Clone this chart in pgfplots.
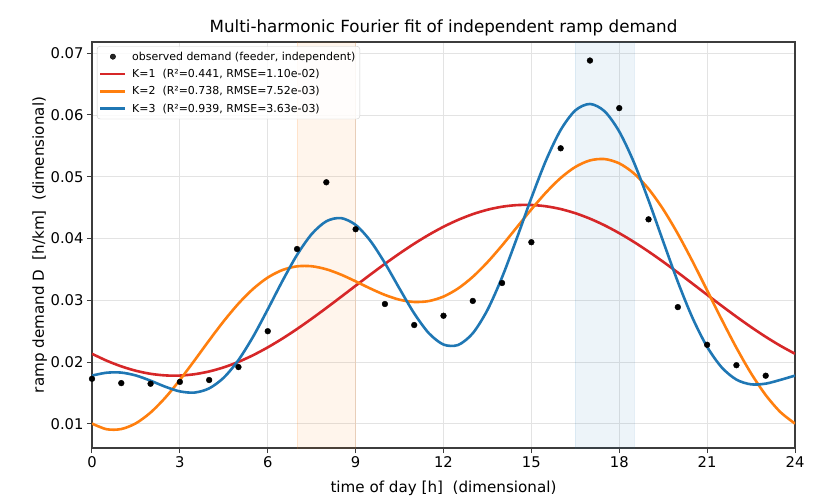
\documentclass[border=0pt]{standalone}
\usepackage{fontspec}
\setmainfont{DejaVu Sans}
\usepackage{pgfplots}
\pgfplotsset{compat=1.18}
\definecolor{tabred}{RGB}{214,39,40}
\definecolor{taborange}{RGB}{255,127,14}
\definecolor{tabblue}{RGB}{31,119,180}
\definecolor{framegray}{RGB}{60,60,60}
\begin{document}
\begin{tikzpicture}
\useasboundingbox (-92bp,-54bp) rectangle (738bp,448bp);
\begin{axis}[
  scale only axis, width=703bp, height=406bp,
  xmin=0, xmax=24, ymin=0.0061, ymax=0.0718,
  xtick={0,3,6,9,12,15,18,21,24},
  ytick={0.01,0.02,0.03,0.04,0.05,0.06,0.07},
  yticklabels={0.01,0.02,0.03,0.04,0.05,0.06,0.07},
  scaled y ticks=false,
  /pgf/number format/assume math mode=true,
  tick label style={font=\fontsize{14.8}{17}\selectfont},
  label style={font=\fontsize{15.2}{18}\selectfont},
  title style={font=\fontsize{16.8}{20}\selectfont, at={(axis description cs:0.5,1)}, anchor=base, yshift=3.5bp},
  title={Multi-harmonic Fourier fit of independent ramp demand},
  xlabel={time of day [h]\ \ (dimensional)},
  ylabel={ramp demand D\ \ [h/km]\ \ (dimensional)},
  xlabel style={at={(axis description cs:0.5,0)}, anchor=base, yshift=-44bp},
  ylabel style={at={(axis description cs:-0.0683,0.5)}, anchor=base},
  grid=major, major grid style={color=black!11, line width=0.8bp},
  tick align=outside, major tick length=5bp,
  tick style={color=framegray, line width=1bp},
  axis line style={color=framegray, line width=1.2bp},
  xtick pos=bottom, ytick pos=left,
  legend cell align=left,
  legend style={at={(0.007,0.99)}, anchor=north west,
    font=\fontsize{11}{12}\selectfont, draw=black!20, rounded corners=3bp,
    fill=white, fill opacity=0.85, text opacity=1,
    inner xsep=2bp, inner ysep=3bp, row sep=2.5bp, column sep=3bp,
    nodes={inner sep=2.5bp}},
  legend image code/.code={\draw[mark repeat=2,mark phase=2,#1] plot coordinates {(0bp,0bp) (12.5bp,0bp) (25bp,0bp)};},
]
\addplot[draw=taborange, draw opacity=0.15, fill=taborange, fill opacity=0.08, forget plot] coordinates {(7,0) (9,0) (9,0.1) (7,0.1) (7,0)};
\addplot[draw=tabblue, draw opacity=0.12, fill=tabblue, fill opacity=0.08, forget plot] coordinates {(16.5,0) (18.5,0) (18.5,0.1) (16.5,0.1) (16.5,0)};

\addlegendimage{only marks, mark=*, mark size=2.7bp, black}
\addlegendentry{observed demand (feeder, independent)}

\addplot[tabred, line width=2.6bp, smooth, no marks] coordinates {
(0,0.021348) (0.5,0.020232) (1,0.019309) (1.5,0.018596) (2,0.018105) (2.5,0.017846)
(3,0.017824) (3.5,0.018037) (4,0.018484) (4.5,0.019154) (5,0.020038) (5.5,0.021120)
(6,0.022385) (6.5,0.023804) (7,0.025358) (7.5,0.027019) (8,0.028759) (8.5,0.030548)
(9,0.032356) (9.5,0.034150) (10,0.035902) (10.5,0.037581) (11,0.039158) (11.5,0.040605)
(12,0.041902) (12.5,0.043018) (13,0.043941) (13.5,0.044654) (14,0.045145) (14.5,0.045404)
(15,0.045426) (15.5,0.045213) (16,0.044766) (16.5,0.044096) (17,0.043212) (17.5,0.042130)
(18,0.040865) (18.5,0.039446) (19,0.037892) (19.5,0.036231) (20,0.034491) (20.5,0.032702)
(21,0.030894) (21.5,0.029100) (22,0.027348) (22.5,0.025669) (23,0.024092) (23.5,0.022645)
(24,0.021348)};
\addlegendentry{K=1\ \ (R²=0.441, RMSE=1.10e-02)}

\addplot[taborange, line width=2.6bp, smooth, no marks] coordinates {
(0,0.010052) (0.5,0.009136) (1,0.009169) (1.5,0.010103) (2,0.011840) (2.5,0.014234)
(3,0.017111) (3.5,0.020273) (4,0.023515) (4.5,0.026638) (5,0.029464) (5.5,0.031847)
(6,0.033681) (6.5,0.034900) (7,0.035498) (7.5,0.035512) (8,0.035024) (8.5,0.034160)
(9,0.033069) (9.5,0.031914) (10,0.030871) (10.5,0.030097) (11,0.029732) (11.5,0.029878)
(12,0.030606) (12.5,0.031922) (13,0.033801) (13.5,0.036161) (14,0.038880) (14.5,0.041792)
(15,0.044713) (15.5,0.047449) (16,0.049797) (16.5,0.051580) (17,0.052638) (17.5,0.052857)
(18,0.052161) (18.5,0.050542) (19,0.048032) (19.5,0.044724) (20,0.040756) (20.5,0.036314)
(21,0.031607) (21.5,0.026864) (22,0.022317) (22.5,0.018185) (23,0.014666) (23.5,0.011918)
(24,0.010052)};
\addlegendentry{K=2\ \ (R²=0.738, RMSE=7.52e-03)}

\addplot[tabblue, line width=2.6bp, smooth, no marks] coordinates {
(0,0.017818) (0.5,0.018282) (1,0.018302) (1.5,0.017832) (2,0.016990) (2.5,0.016020)
(3,0.015261) (3.5,0.015070) (4,0.015749) (4.5,0.017492) (5,0.020331) (5.5,0.024118)
(6,0.028531) (6.5,0.033114) (7,0.037348) (7.5,0.040715) (8,0.042790) (8.5,0.043306)
(9,0.042202) (9.5,0.039643) (10,0.036021) (10.5,0.031883) (11,0.027882) (11.5,0.024675)
(12,0.022840) (12.5,0.022776) (13,0.024668) (13.5,0.028432) (14,0.033730) (14.5,0.040006)
(15,0.046563) (15.5,0.052652) (16,0.057563) (16.5,0.060726) (17,0.061771) (17.5,0.060586)
(18,0.057311) (18.5,0.052328) (19,0.046182) (19.5,0.039521) (20,0.032990) (20.5,0.027168)
(21,0.022474) (21.5,0.019135) (22,0.017167) (22.5,0.016399) (23,0.016516) (23.5,0.017121)
(24,0.017818)};
\addlegendentry{K=3\ \ (R²=0.939, RMSE=3.63e-03)}

\addplot[only marks, mark=*, mark size=2.9bp, black, forget plot] coordinates {
(0,0.0173) (1,0.0166) (2,0.0165) (3,0.0168) (4,0.0171) (5,0.0192)
(6,0.0250) (7,0.0383) (8,0.0491) (9,0.0415) (10,0.0294) (11,0.0260)
(12,0.0275) (13,0.0299) (14,0.0328) (15,0.0394) (16,0.0546) (17,0.0688)
(18,0.0611) (19,0.0431) (20,0.0289) (21,0.0228) (22,0.0195) (23,0.0178)};
\end{axis}
\end{tikzpicture}
\end{document}
